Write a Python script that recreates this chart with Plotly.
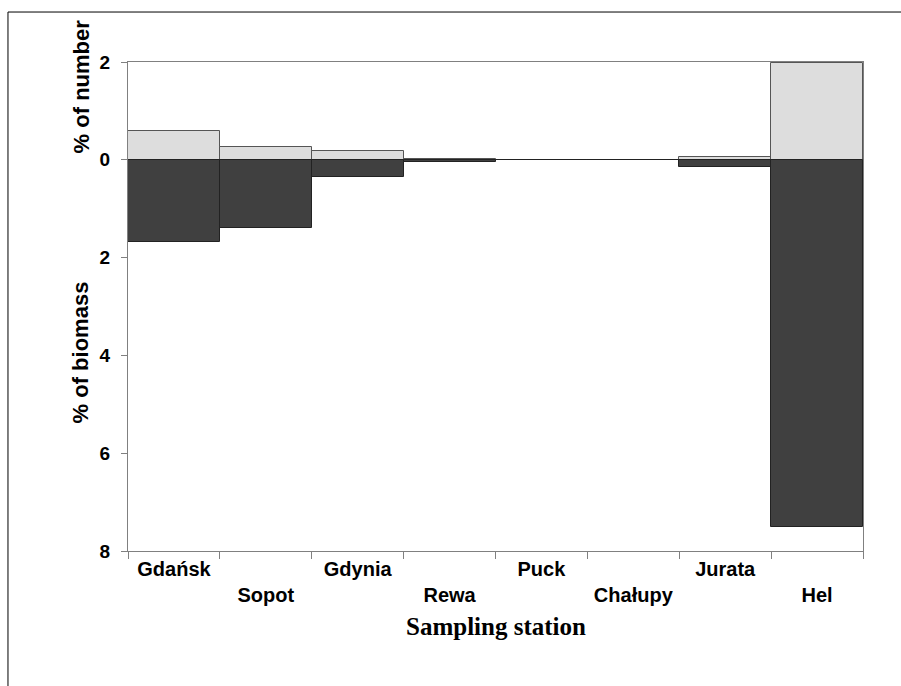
import plotly.graph_objects as go

stations = ["Gdańsk", "Sopot", "Gdynia", "Rewa", "Puck", "Chałupy", "Jurata", "Hel"]
pct_number = [0.58, 0.26, 0.17, 0.01, 0.0, 0.0, 0.065, 1.97]
pct_biomass = [1.69, 1.39, 0.36, 0.045, 0.0, 0.0, 0.147, 7.51]
y_tick_vals = [-8, -6, -4, -2, 0, 2]
y_tick_text = ["8", "6", "4", "2", "0", "2"]

tick_text = [s if i % 2 == 0 else "<br>" + s for i, s in enumerate(stations)]

fig = go.Figure()
fig.add_trace(go.Bar(
    x=stations, y=pct_number, name="% of number",
    marker=dict(color="#DDDDDD", line=dict(color="#555555", width=1)),
))
fig.add_trace(go.Bar(
    x=stations, y=[-v for v in pct_biomass], name="% of biomass",
    marker=dict(color="#404040", line=dict(color="#222222", width=1)),
))

sans = "Liberation Sans, Arial, sans-serif"

fig.update_layout(
    width=901, height=686,
    margin=dict(l=128, r=38, t=62, b=135),
    paper_bgcolor="white", plot_bgcolor="white",
    barmode="relative", bargap=0, showlegend=False,
    xaxis=dict(
        type="category", tickmode="array", tickvals=stations, ticktext=tick_text,
        tickson="boundaries", ticks="outside", ticklen=7, tickcolor="#808080",
        showline=True, linecolor="#808080", linewidth=1, mirror=True,
        showgrid=False, tickfont=dict(family=sans, size=20, color="black", weight="bold"),
        tickangle=0,
    ),
    yaxis=dict(
        range=[-8, 2], tickmode="array", tickvals=y_tick_vals, ticktext=y_tick_text,
        ticks="outside", ticklen=6, tickcolor="#808080",
        showline=True, linecolor="#808080", linewidth=1, mirror=True,
        showgrid=False, zeroline=True, zerolinecolor="black", zerolinewidth=1,
        tickfont=dict(family=sans, size=19, color="black", weight="bold"),
        ticklabelstandoff=7,
    ),
    font=dict(family=sans, size=20, color="black"),
)

fig.add_annotation(
    text="<b>% of number</b>", textangle=-90, xref="paper", yref="y",
    x=-0.064, y=1.5, xanchor="center", yanchor="middle", showarrow=False,
    font=dict(family=sans, size=22, color="black"),
)
fig.add_annotation(
    text="<b>% of biomass</b>", textangle=-90, xref="paper", yref="y",
    x=-0.064, y=-3.94, xanchor="center", yanchor="middle", showarrow=False,
    font=dict(family=sans, size=22, color="black"),
)
fig.add_annotation(
    text="<b>Sampling station</b>", xref="paper", yref="paper",
    x=0.5, y=-0.155, xanchor="center", yanchor="middle", showarrow=False,
    font=dict(family="Liberation Serif, Times New Roman, serif", size=25, color="black"),
)

fig.add_shape(
    type="rect", xref="paper", yref="paper",
    x0=-0.1633, x1=1.06, y0=-0.3, y1=1.1022,
    line=dict(color="black", width=1), fillcolor="rgba(0,0,0,0)", layer="below",
)

fig.write_html("out.html")
